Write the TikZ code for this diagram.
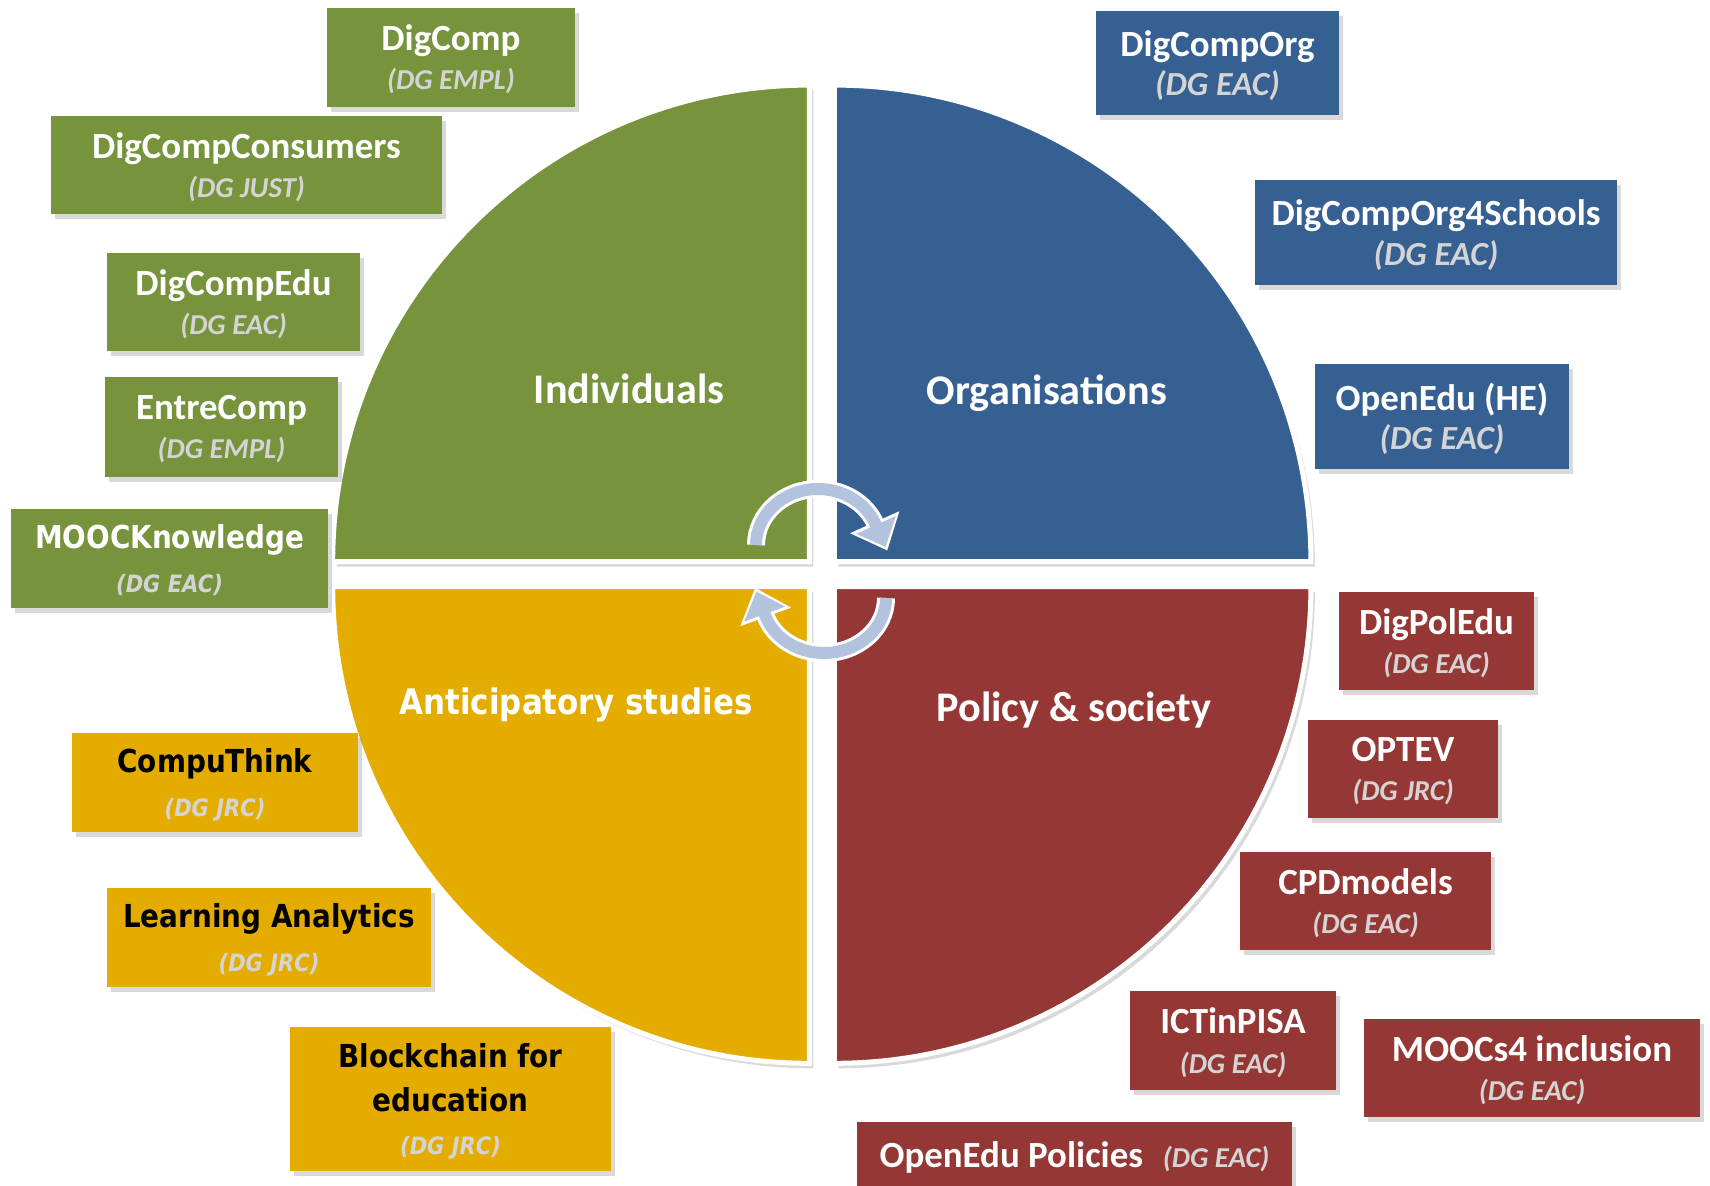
\documentclass[tikz,border=0pt]{standalone}
\usepackage{fontspec}
\setmainfont{Carlito}
\newfontfamily\wideface[FakeStretch=0.88]{DejaVu Sans}
\usepackage{xcolor}
\usetikzlibrary{arrows.meta,shadows}

\definecolor{indgreen}{HTML}{77933C}
\definecolor{orgblue}{HTML}{366092}
\definecolor{polred}{HTML}{953735}
\definecolor{antyellow}{HTML}{E5AC00}
\definecolor{cycblue}{HTML}{B3C3DD}
\definecolor{dggrey}{HTML}{D4D4D4}

\newcommand{\dgsub}[1]{{\fontsize{8.2}{9}\selectfont\itshape\color{dggrey}#1}}
\newcommand{\dgorg}[1]{{\fontsize{9.6}{10}\selectfont\itshape\color{dggrey}#1}}
\newcommand{\dgwide}[1]{{\fontsize{6.8}{8}\selectfont\itshape\color{dggrey}#1}}

\begin{document}
\begin{tikzpicture}[
  box/.style={align=center,inner sep=0pt,text=white,text depth=0pt,
    font=\fontsize{10.5}{11.2}\selectfont\bfseries,
    drop shadow={shadow xshift=0.04cm,shadow yshift=-0.05cm,opacity=0.3}},
  greenbox/.style={box,fill=indgreen},
  bluebox/.style={box,fill=orgblue},
  redbox/.style={box,fill=polred},
  widebox/.style={font=\wideface\fontsize{9}{12.4}\selectfont\bfseries},
  yellowbox/.style={box,widebox,fill=antyellow,text=black},
  quad/.style={draw=white,line width=0.05cm,
    drop shadow={shadow xshift=0.04cm,shadow yshift=-0.05cm,opacity=0.3}},
  qlabel/.style={text=white,font=\fontsize{12}{14}\selectfont\bfseries},
  cycshadow/.style={line width=0.14cm,black,opacity=0.25},
  cycedge/.style={line width=0.18cm,white},
  cycfill/.style={line width=0.12cm,cycblue}
]
\useasboundingbox (0,0) rectangle (17.10,11.85);

% quadrants
\filldraw[quad,fill=indgreen] (8.093,6.233) -- ++(-4.766,0) arc[start angle=180,end angle=90,radius=4.766] -- cycle;
\filldraw[quad,fill=orgblue] (8.343,6.233) -- ++(0,4.766) arc[start angle=90,end angle=0,radius=4.766] -- cycle;
\filldraw[quad,fill=polred] (8.343,5.983) -- ++(4.766,0) arc[start angle=0,end angle=-90,radius=4.766] -- cycle;
\filldraw[quad,fill=antyellow] (8.093,5.983) -- ++(0,-4.766) arc[start angle=270,end angle=180,radius=4.766] -- cycle;

\node[qlabel] (Q1) at (6.29,7.96) {Individuals};
\node[qlabel] (Q2) at (10.47,7.92) {Organisations};
\node[qlabel,widebox,font=\wideface\fontsize{10}{12}\selectfont\bfseries] (Q3) at (5.76,4.80) {Anticipatory studies};
\node[qlabel] (Q4) at (10.74,4.75) {Policy \& society};

% cycle arrows
\coordinate (ta) at (7.56,6.40);
\coordinate (ba) at (8.86,5.87);
\draw[cycshadow,shift={(0.03,-0.05)},-{Triangle[width=0.48cm,length=0.28cm]}] (ta) arc[start angle=180,end angle=22,x radius=0.62,y radius=0.56] -- ++(-66:0.27);
\draw[cycedge,-{Triangle[width=0.52cm,length=0.31cm]}] (ta) arc[start angle=180,end angle=22,x radius=0.62,y radius=0.56] -- ++(-66:0.29);
\draw[cycfill,-{Triangle[width=0.42cm,length=0.24cm]}] (ta) arc[start angle=180,end angle=22,x radius=0.62,y radius=0.56] -- ++(-66:0.25);

\draw[cycshadow,shift={(0.03,-0.05)},-{Triangle[width=0.48cm,length=0.28cm]}] (ba) arc[start angle=0,end angle=-162,x radius=0.62,y radius=0.55] -- ++(110:0.27);
\draw[cycedge,-{Triangle[width=0.52cm,length=0.31cm]}] (ba) arc[start angle=0,end angle=-162,x radius=0.62,y radius=0.55] -- ++(110:0.29);
\draw[cycfill,-{Triangle[width=0.42cm,length=0.24cm]}] (ba) arc[start angle=0,end angle=-162,x radius=0.62,y radius=0.55] -- ++(110:0.25);

% individuals
\node[greenbox,minimum width=2.48cm,minimum height=0.99cm] (G1) at (4.51,11.28) {DigComp\\\dgsub{(DG EMPL)}};
\node[greenbox,minimum width=3.91cm,minimum height=0.98cm] (G2) at (2.465,10.20) {DigCompConsumers\\\dgsub{(DG JUST)}};
\node[greenbox,minimum width=2.53cm,minimum height=0.98cm] (G3) at (2.335,8.83) {DigCompEdu\\\dgsub{(DG EAC)}};
\node[greenbox,minimum width=2.33cm,minimum height=1.00cm] (G4) at (2.215,7.58) {EntreComp\\\dgsub{(DG EMPL)}};
\node[greenbox,widebox,minimum width=3.17cm,minimum height=0.99cm] (G5) at (1.695,6.265) {MOOCKnowledge\\\dgwide{(DG EAC)}};

% organisations
\node[bluebox,minimum width=2.43cm,minimum height=1.04cm] (B1) at (12.175,11.22) {DigCompOrg\\\dgorg{(DG EAC)}};
\node[bluebox,minimum width=3.62cm,minimum height=1.05cm] (B2) at (14.36,9.525) {DigCompOrg4Schools\\\dgorg{(DG EAC)}};
\node[bluebox,minimum width=2.54cm,minimum height=1.05cm] (B3) at (14.42,7.685) {OpenEdu (HE)\\\dgorg{(DG EAC)}};

% policy
\node[redbox,minimum width=1.95cm,minimum height=0.98cm] (R1) at (14.365,5.44) {DigPolEdu\\\dgsub{(DG EAC)}};
\node[redbox,minimum width=1.90cm,minimum height=0.98cm] (R2) at (14.03,4.16) {OPTEV\\\dgsub{(DG JRC)}};
\node[redbox,minimum width=2.51cm,minimum height=0.98cm] (R3) at (13.655,2.84) {CPDmodels\\\dgsub{(DG EAC)}};
\node[redbox,minimum width=2.06cm,minimum height=0.99cm] (R4) at (12.33,1.445) {ICTinPISA\\\dgsub{(DG EAC)}};
\node[redbox,minimum width=3.36cm,minimum height=0.98cm] (R5) at (15.32,1.17) {MOOCs4 inclusion\\\dgsub{(DG EAC)}};
\node[redbox,minimum width=4.35cm,minimum height=0.66cm] (R6) at (10.745,0.30) {OpenEdu Policies\hspace{0.2cm}\dgsub{(DG EAC)}};

% anticipatory
\node[yellowbox,minimum width=2.86cm,minimum height=0.99cm] (Y1) at (2.15,4.025) {CompuThink\\\dgwide{(DG JRC)}};
\node[yellowbox,minimum width=3.24cm,minimum height=0.99cm] (Y2) at (2.69,2.475) {Learning Analytics\\\dgwide{(DG JRC)}};
\node[yellowbox,minimum width=3.21cm,minimum height=1.44cm] (Y3) at (4.505,0.86) {Blockchain for\\education\\\dgwide{(DG JRC)}};

\end{tikzpicture}
\end{document}
